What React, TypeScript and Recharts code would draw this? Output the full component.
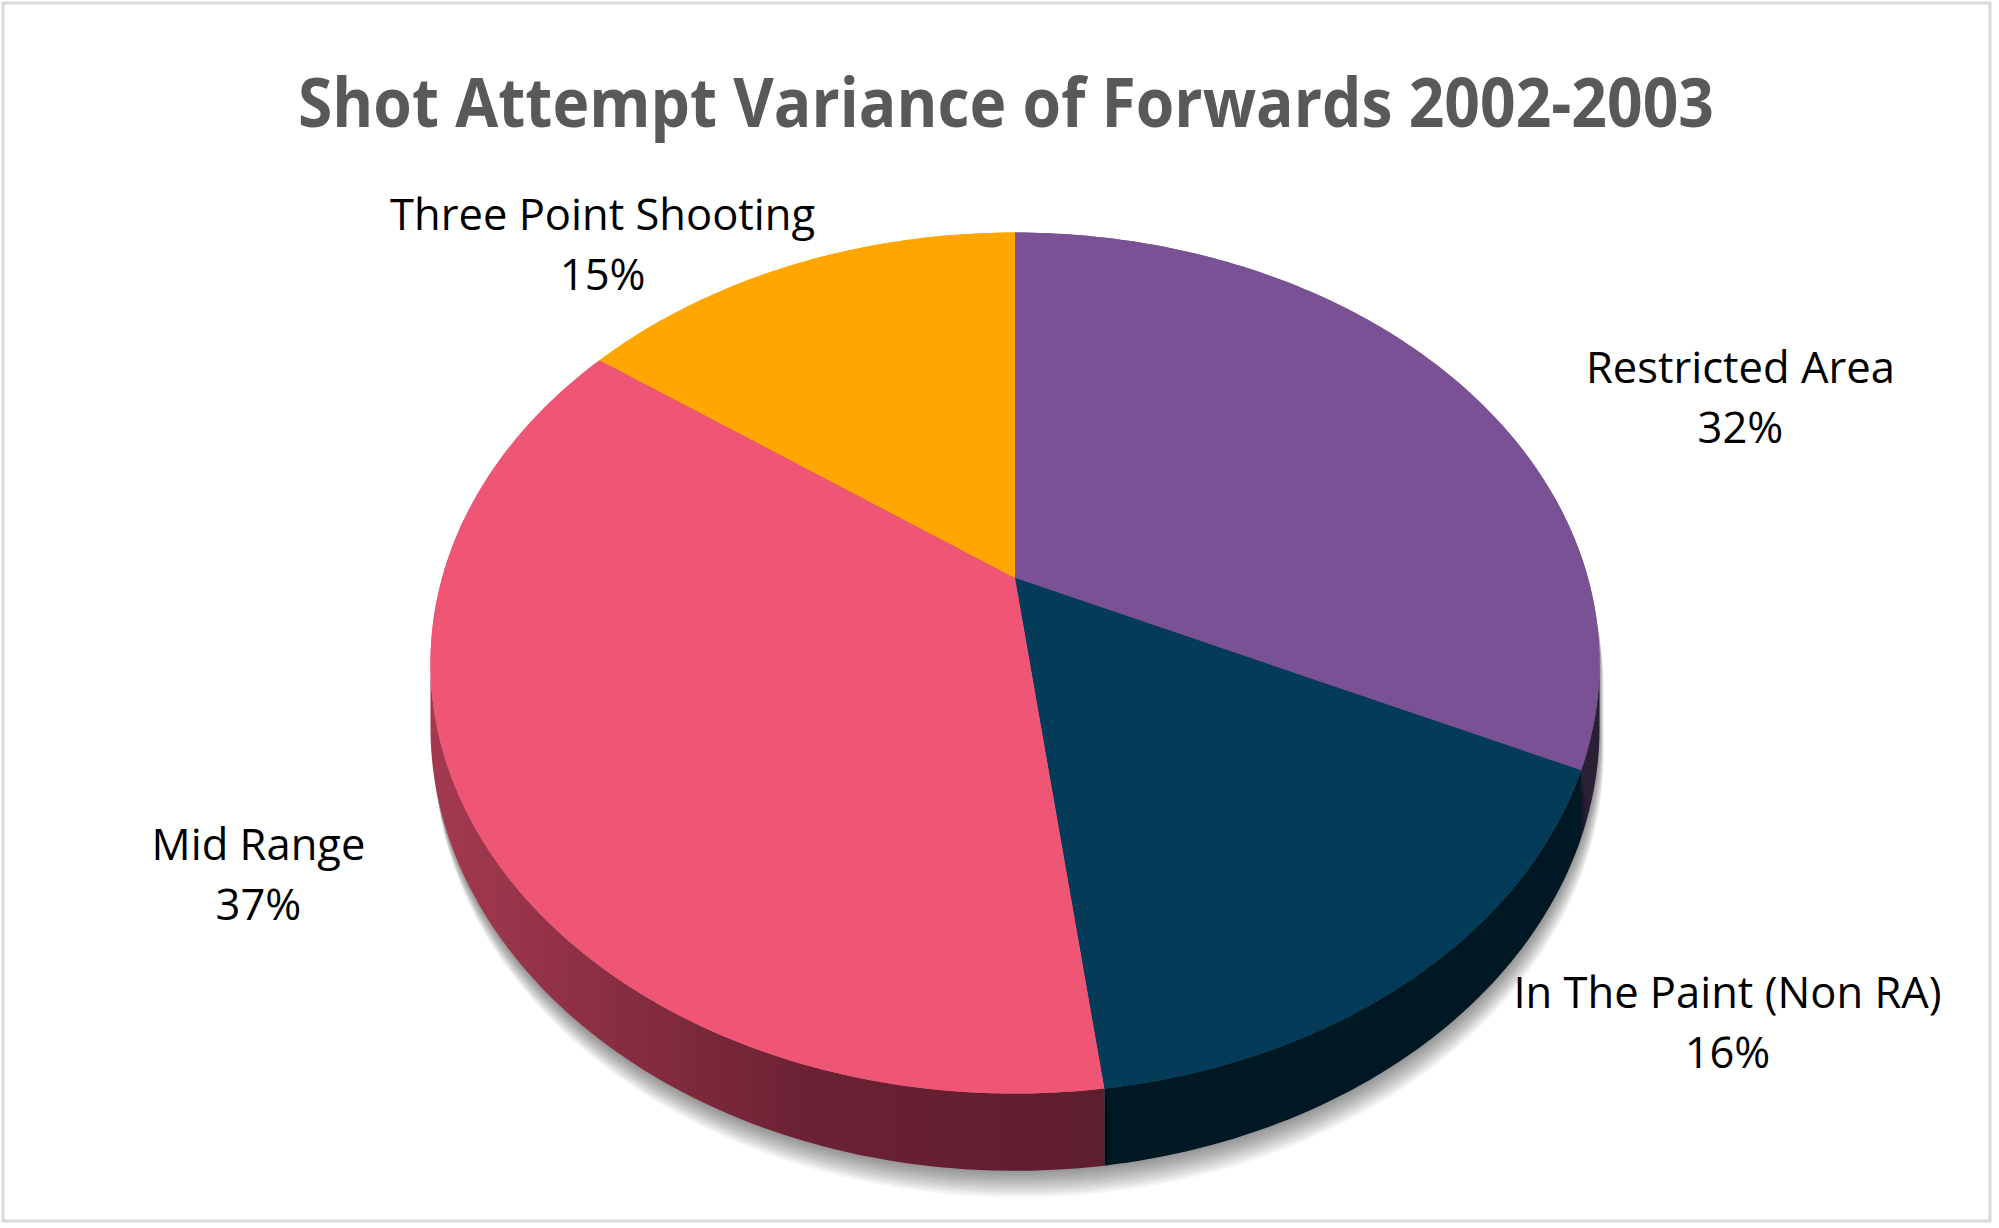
import React from "react";
import { PieChart, Pie, Cell } from "recharts";

// shot zones, clockwise from 12 o'clock
const CATEGORIES = [
  "Restricted Area",
  "In The Paint (Non RA)",
  "Mid Range",
  "Three Point Shooting",
];
const SHARES = [32, 16, 37, 15];

const TITLE = "Shot Attempt Variance of Forwards 2002-2003";

const TOP_COLORS = ["#7a5195", "#033b59", "#ef5675", "#ffa600"];
const SIDE_FILLS = ["#2a2036", "#001824", "url(#sideMid)", "#a86d00"];

// label nudge from the projected mid-angle point (center x, first baseline)
const LABEL_SHIFT = [
  [241, 27],
  [253, -27],
  [-134, 16],
  [-169, -3],
];

const W = 1999;
const H = 1228;
const CX = 1015;
const CY = 578;
const RADIUS = 573;

// 3d look: tilted disc seen in perspective
const TILT = 0.1976;
const SQUASH = 0.722;
const DEPTH = 62;
const SHADOW_STEPS = 12;

const chartData = CATEGORIES.map((name, i) => ({ name, value: SHARES[i] }));

function project(cx: number, cy: number, R: number, deg: number, r = 1) {
  const t = (deg * Math.PI) / 180;
  const u = r * Math.cos(t);
  const v = -r * Math.sin(t);
  const d = 1 - TILT * v;
  return { x: cx + (R * u) / d, y: cy + (R * SQUASH * v) / d, d };
}

function arcPoints(cx: number, cy: number, R: number, a0: number, a1: number) {
  const n = Math.max(2, Math.ceil(Math.abs(a1 - a0)));
  const pts = [];
  for (let i = 0; i <= n; i++) {
    pts.push(project(cx, cy, R, a0 + ((a1 - a0) * i) / n));
  }
  return pts;
}

function toPath(pts: { x: number; y: number }[]) {
  return pts
    .map((p, i) => `${i === 0 ? "M" : "L"}${p.x.toFixed(2)},${p.y.toFixed(2)}`)
    .join(" ");
}

function sectorPath(cx: number, cy: number, R: number, s: number, e: number) {
  return `M${cx},${cy} ` + toPath(arcPoints(cx, cy, R, s, e)).replace(/^M/, "L") + " Z";
}

const TopFace = (props: any) => {
  const { cx, cy, outerRadius, startAngle, endAngle, fill } = props;
  return <path d={sectorPath(cx, cy, outerRadius, startAngle, endAngle)} fill={fill} stroke="none" />;
};

const SideFace = (props: any) => {
  const { cx, cy, outerRadius, startAngle, endAngle, fill } = props;
  const name = props.name ?? props.payload?.name;
  const topColor = TOP_COLORS[CATEGORIES.indexOf(name)] ?? fill;
  const lim = (Math.asin(TILT) * 180) / Math.PI;
  const hi = Math.min(Math.max(startAngle, endAngle), -lim);
  const lo = Math.max(Math.min(startAngle, endAngle), -180 + lim);
  const topPath = sectorPath(cx, cy, outerRadius, startAngle, endAngle);
  let sidePath = "";
  if (hi > lo) {
    const top = arcPoints(cx, cy, outerRadius, hi, lo);
    const bottom = top.map((p) => ({ x: p.x, y: p.y + DEPTH / p.d })).reverse();
    sidePath = toPath([...top, ...bottom]) + " Z";
  }
  const shadow = [];
  for (let s = 1; s <= SHADOW_STEPS; s++) {
    shadow.push(
      <g key={s} transform={`translate(${(s * 0.35).toFixed(2)},${s * 2.2})`} opacity={0.034}>
        <path d={topPath} fill="#000" />
        {sidePath && <path d={sidePath} fill="#000" />}
      </g>
    );
  }
  return (
    <g>
      <defs>
        <linearGradient id="sideMid" gradientUnits="userSpaceOnUse" x1={440} y1={0} x2={1100} y2={0}>
          <stop offset="0%" stopColor="#a3394f" />
          <stop offset="55%" stopColor="#6c2234" />
          <stop offset="100%" stopColor="#5e1e2d" />
        </linearGradient>
      </defs>
      {shadow}
      <path d={topPath} fill={topColor} stroke="none" />
      {sidePath && <path d={sidePath} fill={fill} stroke="none" />}
    </g>
  );
};

const renderLabel = (props: any) => {
  const { cx, cy, outerRadius, midAngle, percent, name, index } = props;
  const p = project(cx, cy, outerRadius, midAngle, 1.12);
  const [dx, dy] = LABEL_SHIFT[index] ?? [0, 0];
  const x = p.x + dx;
  const y = p.y + dy;
  return (
    <text
      x={x}
      y={y}
      textAnchor="middle"
      fill="#000000"
      fontFamily="'Open Sans', sans-serif"
      fontSize={43.5}
    >
      <tspan x={x}>{name}</tspan>
      <tspan x={x} dy={60}>
        {`${Math.round(percent * 100)}%`}
      </tspan>
    </text>
  );
};

export default function App() {
  return (
    <div style={{ position: "absolute", left: 0, top: 0, width: W, height: H, background: "#ffffff" }}>
      <PieChart width={W} height={H} margin={{ top: 0, right: 0, bottom: 0, left: 0 }}>
        <Pie
          data={chartData}
          dataKey="value"
          nameKey="name"
          cx={CX}
          cy={CY}
          outerRadius={RADIUS}
          startAngle={90}
          endAngle={-270}
          stroke="none"
          shape={SideFace}
          isAnimationActive={false}
        >
          {chartData.map((entry, i) => (
            <Cell key={entry.name} fill={SIDE_FILLS[i]} />
          ))}
        </Pie>
        <Pie
          data={chartData}
          dataKey="value"
          nameKey="name"
          cx={CX}
          cy={CY}
          outerRadius={RADIUS}
          startAngle={90}
          endAngle={-270}
          stroke="none"
          shape={TopFace}
          label={renderLabel}
          labelLine={false}
          isAnimationActive={false}
        >
          {chartData.map((entry, i) => (
            <Cell key={entry.name} fill={TOP_COLORS[i]} />
          ))}
        </Pie>
      </PieChart>

      <svg
        width={W}
        height={H}
        style={{ position: "absolute", left: 0, top: 0, pointerEvents: "none" }}
      >
        <rect x={3} y={3} width={1987} height={1218} fill="none" stroke="#d9d9d9" strokeWidth={3} />
        <text
          x={1006}
          y={127}
          textAnchor="middle"
          fill="#595959"
          fontFamily="'Open Sans', sans-serif"
          fontWeight={700}
          fontSize={68}
          textLength={1416}
          lengthAdjust="spacingAndGlyphs"
        >
          {TITLE}
        </text>
      </svg>
    </div>
  );
}
